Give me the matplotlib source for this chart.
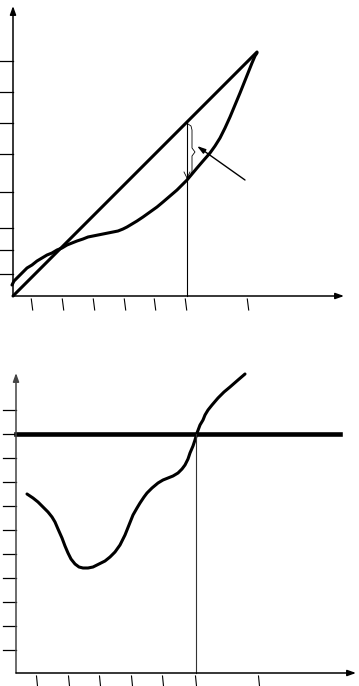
import matplotlib
matplotlib.use("Agg")
from matplotlib import pyplot as plt

# все координаты в пикселях картинки (y вниз)

# верхний график
top_x0, top_y0 = 13, 296
top_ytick_y = [61, 92, 123, 154, 192, 228, 250, 274]
top_xtick_x = [32, 63, 94, 125, 155, 186, 248]
diag_x = [13, 257]
diag_y = [296, 52]
curve1_x = [12, 14, 17, 20, 23, 27, 32, 37, 42, 47, 52, 57, 62, 67, 72, 77, 83, 88, 93, 98, 103,
            108, 113, 118, 123, 127, 132, 137, 143, 150, 157, 163, 170, 177, 182, 187, 192, 197,
            203, 210, 215, 220, 225, 230, 235, 240, 244, 248, 252, 255, 257]
curve1_y = [285, 281, 278, 275, 272, 268, 265, 261, 258, 255, 253, 250, 248, 245, 243, 241, 239, 237, 236, 235, 234,
            233, 232, 231, 229, 227, 224, 221, 217, 212, 207, 202, 196, 190, 185, 180, 174, 168,
            161, 153, 146, 138, 128, 117, 105, 93, 83, 73, 63, 56, 53]
vline1_x = 187
vline1_top = 123
brace_x = [188, 191, 192, 192, 195, 192, 192, 190, 187]
brace_y = [124, 126, 130, 148, 152, 156, 172, 176, 178]
pointer_from = (245, 180)
pointer_to = (197, 146)

# нижний график
bot_x0, bot_y0 = 16, 673
bot_ytick_y = [410, 434, 458, 482, 506, 530, 554, 578, 602, 626, 650]
bot_xtick_x = [37, 69, 100, 132, 163, 196, 259]
level_y = 434
level_x = [16, 340]
curve2_x = [27, 33, 38, 43, 48, 52, 55, 58, 62, 65, 68, 71, 75, 79, 83, 88, 93, 99, 105, 110, 115,
            120, 125, 129, 133, 137, 140, 144, 147, 152, 158, 163, 168, 173, 178, 182, 185, 188,
            190, 193, 195, 197, 200, 203, 205, 208, 212, 218, 224, 230, 238, 245]
curve2_y = [494, 498, 502, 507, 512, 517, 522, 529, 538, 546, 553, 559, 564, 567, 568, 568, 567, 564, 561, 557, 552,
            545, 535, 525, 515, 508, 503, 497, 493, 488, 483, 480, 478, 476, 473, 469, 465, 459,
            453, 446, 440, 433, 425, 420, 415, 410, 405, 398, 392, 387, 380, 374]
vline2_x = 196

fig = plt.figure(figsize=(3.59, 6.86), dpi=100)
ax = fig.add_axes([0, 0, 1, 1])
ax.set_xlim(0, 359)
ax.set_ylim(686, 0)
ax.axis("off")

arrow = dict(arrowstyle="-|>,head_length=0.5,head_width=0.18", color="black", lw=1.1,
             shrinkA=0, shrinkB=0)

# оси верхнего графика
ax.annotate("", xy=(top_x0, 6), xytext=(top_x0, top_y0), arrowprops=arrow)
ax.annotate("", xy=(344, top_y0), xytext=(top_x0, top_y0), arrowprops=arrow)
for y in top_ytick_y:
    ax.plot([0, top_x0], [y, y], color="black", lw=0.9)
for x in top_xtick_x:
    ax.plot([x - 0.7, x + 0.7], [299, 310], color="black", lw=0.8)

ax.plot(diag_x, diag_y, color="black", lw=2.2, solid_capstyle="round")
ax.plot(curve1_x, curve1_y, color="black", lw=2.2, solid_joinstyle="round", solid_capstyle="round")
ax.plot([vline1_x, vline1_x], [top_y0, vline1_top], color="black", lw=0.8)
ax.plot(brace_x, brace_y, color="black", lw=0.6)
ax.plot([184, 187, 190], [172, 178, 172], color="black", lw=0.6)
ax.annotate("", xy=pointer_to, xytext=pointer_from,
            arrowprops=dict(arrowstyle="-|>,head_length=0.5,head_width=0.15", color="black",
                            lw=1.0, shrinkA=0, shrinkB=0))

# оси нижнего графика
ax.annotate("", xy=(bot_x0, 373), xytext=(bot_x0, bot_y0),
            arrowprops=dict(arrow, color="#444444"))
ax.annotate("", xy=(356, bot_y0), xytext=(bot_x0, bot_y0), arrowprops=arrow)
for y in bot_ytick_y:
    ax.plot([3, bot_x0], [y, y], color="black", lw=0.9)
for x in bot_xtick_x:
    ax.plot([x - 0.5, x + 0.5], [676, 686], color="black", lw=0.8)

ax.plot(level_x, [level_y, level_y], color="black", lw=3.3)
ax.plot(curve2_x, curve2_y, color="black", lw=2.2, solid_joinstyle="round", solid_capstyle="round")
ax.plot([vline2_x, vline2_x], [bot_y0, level_y], color="#333333", lw=0.8)

fig.savefig("out.png", dpi=100)
